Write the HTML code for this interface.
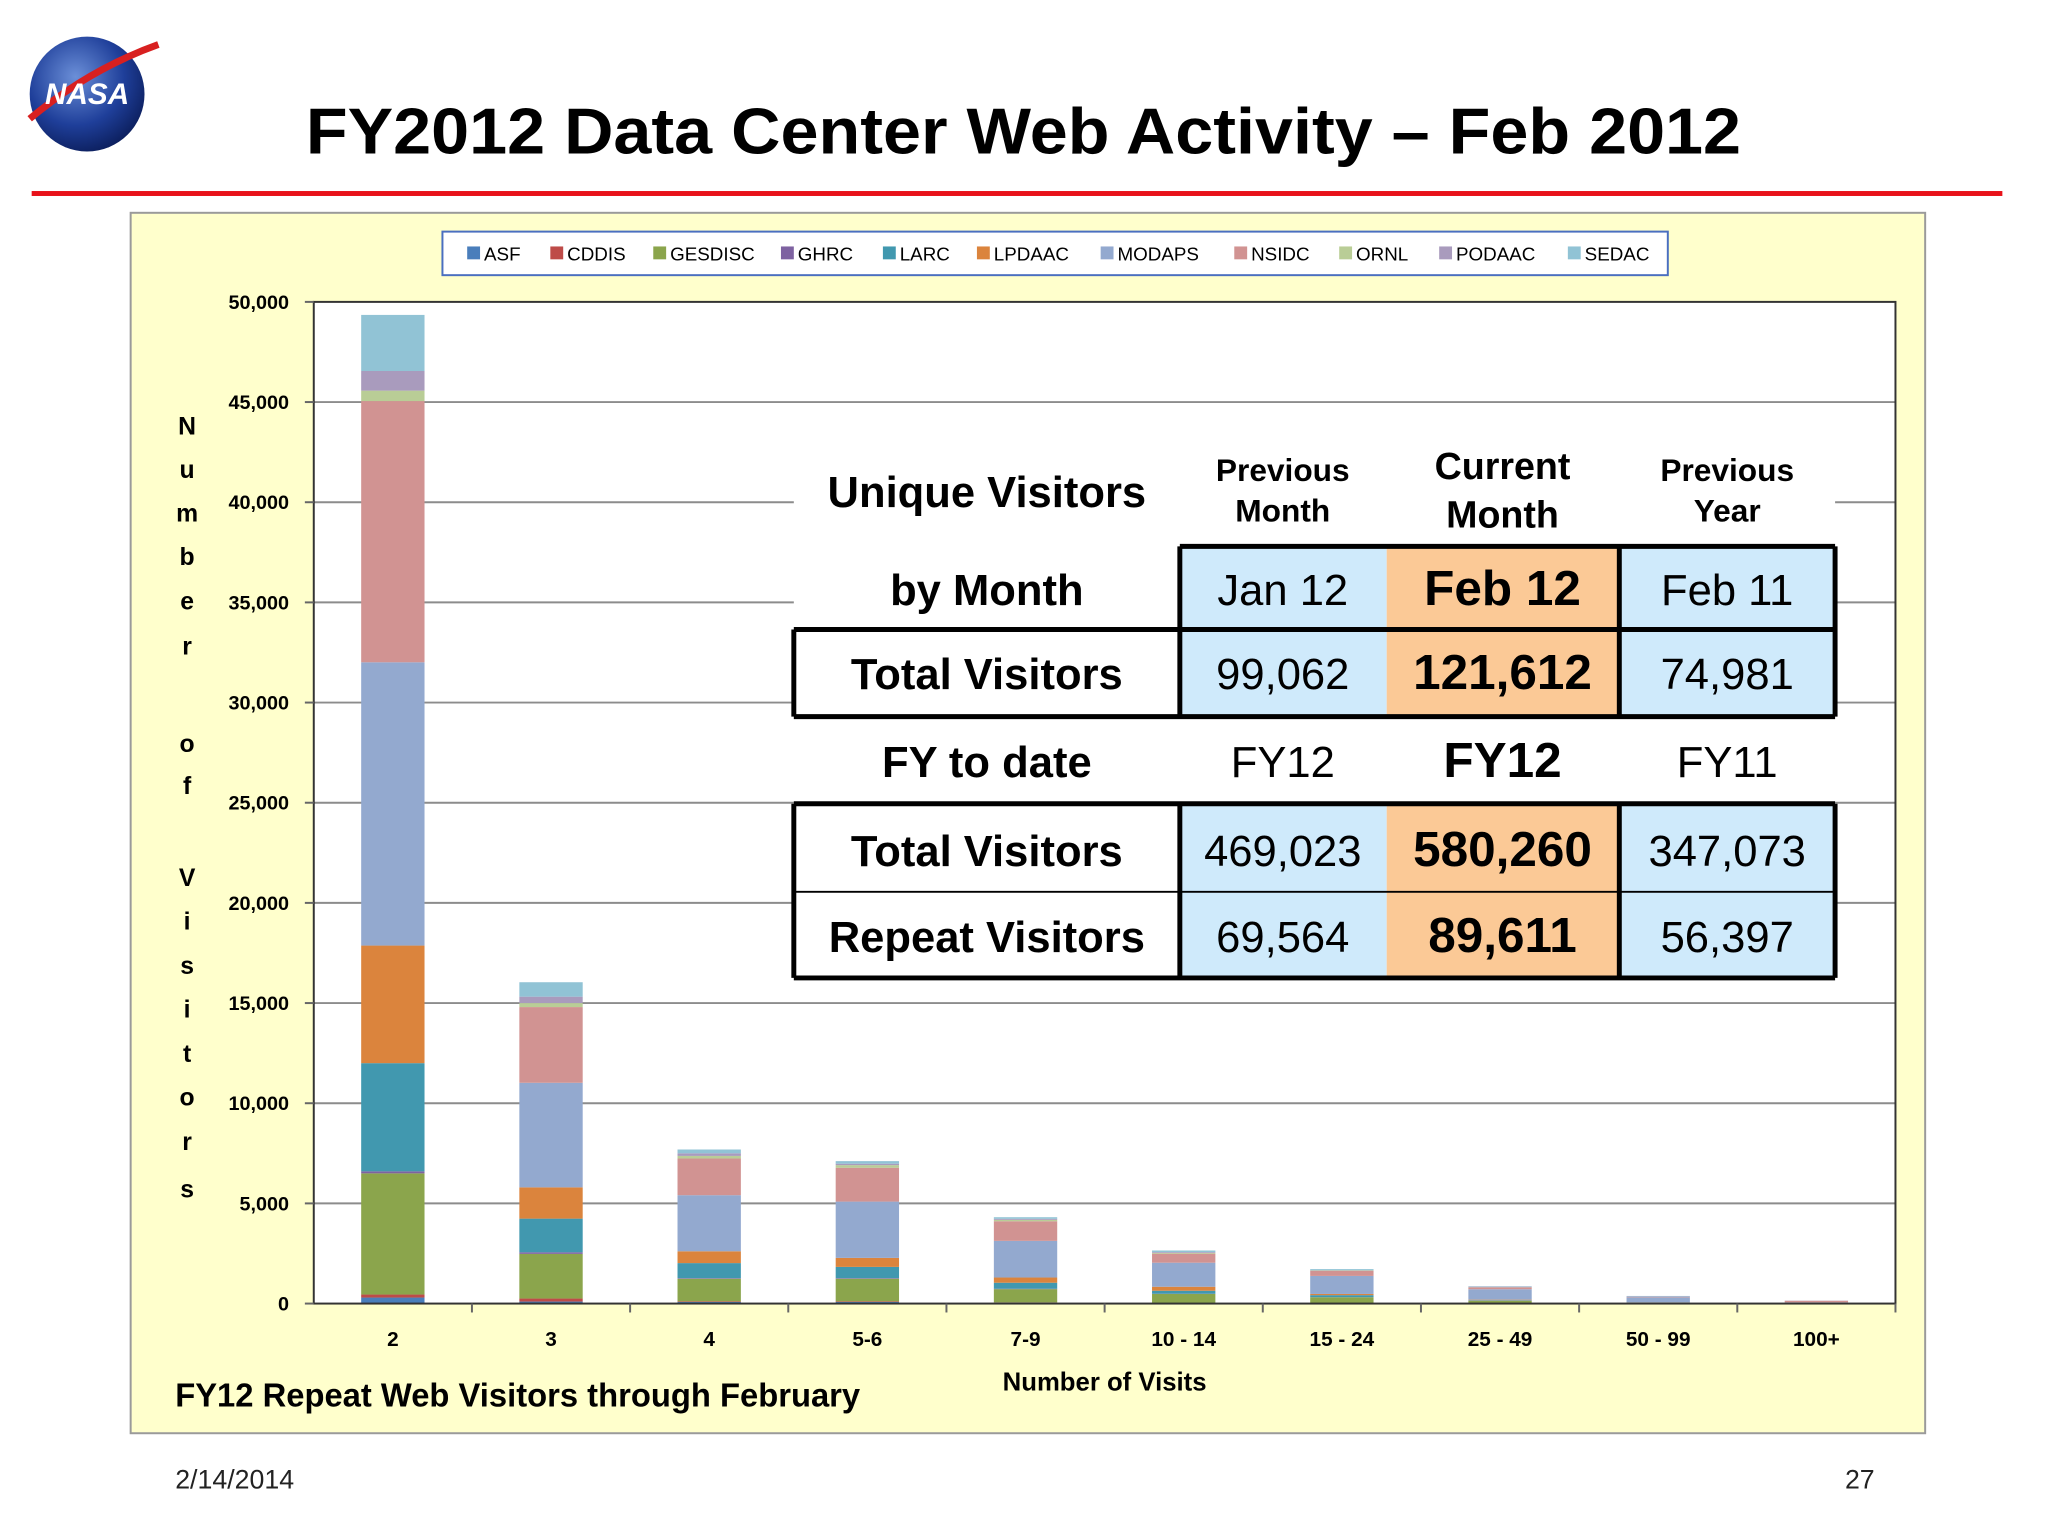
<!DOCTYPE html>
<html><head><meta charset="utf-8">
<style>
html,body{margin:0;padding:0;background:#fff;}
svg{display:block;font-family:"Liberation Sans",sans-serif;}
</style></head>
<body>
<svg id="s" width="2048" height="1536" viewBox="0 0 2048 1536" xmlns="http://www.w3.org/2000/svg">
<rect x="0" y="0" width="2048" height="1536" fill="#fff"/>
<g transform="scale(0.9898)">
<g>
  <defs><radialGradient id="lg" cx="40%" cy="35%" r="70%"><stop offset="0" stop-color="#6b8fd8"/><stop offset="0.6" stop-color="#1f3f9a"/><stop offset="1" stop-color="#0b1d5a"/></radialGradient></defs>
  <circle cx="88" cy="95" r="58" fill="url(#lg)"/>
  <path d="M30 120 Q90 70 160 45" stroke="#d82020" stroke-width="7" fill="none"/>
  <text x="88" y="105" font-size="30" font-weight="bold" fill="#fff" text-anchor="middle" font-style="italic">NASA</text>
</g>
<text x="309" y="155" font-size="66" font-weight="bold" textLength="1450" lengthAdjust="spacingAndGlyphs">FY2012 Data Center Web Activity – Feb 2012</text>
<rect x="32" y="193" width="1991" height="5" fill="#e8121a"/>
<rect x="132" y="215" width="1813" height="1233" fill="#ffffcc" stroke="#9a9a9a" stroke-width="2"/>
<rect x="317" y="305" width="1598" height="1012" fill="#fff"/>
<g id="grid"></g>
<g id="bars"></g>
<rect x="317" y="305" width="1598" height="1012" fill="none" stroke="#333" stroke-width="2"/>
<g id="axes"></g>
<g id="legend"></g>
<g id="ytitle"></g>
<text x="1116" y="1405" font-size="26" font-weight="bold" text-anchor="middle">Number of Visits</text>
<text x="177" y="1421" font-size="34" font-weight="bold" textLength="692" lengthAdjust="spacingAndGlyphs">FY12  Repeat Web Visitors through February</text>
<g id="table"></g>
<text x="177" y="1504" font-size="27" fill="#222">2/14/2014</text>
<text x="1894" y="1504" font-size="27" fill="#222" text-anchor="end">27</text>
</g>
</svg>
<script>
const categories = ["2","3","4","5-6","7-9","10 - 14","15 - 24","25 - 49","50 - 99","100+"];
const seriesNames = ["ASF","CDDIS","GESDISC","GHRC","LARC","LPDAAC","MODAPS","NSIDC","ORNL","PODAAC","SEDAC"];
const ASF     = [300,100,80,80,40,20,10,5,0,0];
const CDDIS   = [150,150,30,30,20,10,5,5,0,0];
const GESDISC = [6050,2230,1130,1130,660,450,300,120,40,20];
const GHRC    = [100,80,30,30,20,10,5,5,0,0];
const LARC    = [5400,1680,750,560,300,150,100,30,10,0];
const LPDAAC  = [5870,1560,590,450,260,200,60,30,10,0];
const MODAPS  = [14140,5220,2800,2810,1830,1200,900,520,250,40];
const NSIDC   = [13040,3780,1830,1690,980,450,250,90,20,80];
const ORNL    = [520,200,130,130,70,40,20,10,0,0];
const PODAAC  = [980,320,130,70,50,40,20,30,30,10];
const SEDAC   = [2800,720,190,130,80,80,50,20,20,0];
const yTicks = [0,5000,10000,15000,20000,25000,30000,35000,40000,45000,50000];
const yTickLabels = ["0","5,000","10,000","15,000","20,000","25,000","30,000","35,000","40,000","45,000","50,000"];

const series=[ASF,CDDIS,GESDISC,GHRC,LARC,LPDAAC,MODAPS,NSIDC,ORNL,PODAAC,SEDAC];
const colors=["#4a7ebb","#be4b48","#8ba54c","#7e62a1","#4198af","#db843d","#93a9cf","#d19392","#b9cd96","#a99bbd","#91c3d5"];
const NS="http://www.w3.org/2000/svg";
const L=317,R=1915,T=305,B=1317,YMAX=50000;
const yScale=v=>B-v/YMAX*(B-T);
const step=(R-L)/categories.length;
const xCenter=i=>L+step*(i+0.5);
const BW=64;
function mk(tag,attrs,parent,txt){const e=document.createElementNS(NS,tag);for(const k in attrs)e.setAttribute(k,attrs[k]);if(txt!==undefined)e.textContent=txt;parent.appendChild(e);return e;}
const grid=document.getElementById('grid'),bars=document.getElementById('bars'),axes=document.getElementById('axes');
yTicks.forEach((t,i)=>{
  if(t>0&&t<YMAX){const g=mk('line',{x1:L,x2:R,y1:yScale(t),y2:yScale(t),stroke:'#8c8c8c','stroke-width':2},grid);
  
  }
  const tk=mk('line',{x1:L-9,x2:L,y1:yScale(t),y2:yScale(t),stroke:'#666','stroke-width':2},axes);
  
  
  const lb=mk('text',{x:292,y:yScale(t)+7,'font-size':20,'font-weight':'bold','text-anchor':'end'},axes,yTickLabels[i]);
  
  
});
categories.forEach((c,i)=>{
  let acc=0;
  series.forEach((s,k)=>{
    const v=s[i]; if(v<=0)return;
    const r=mk('rect',{x:xCenter(i)-BW/2,y:yScale(acc+v),width:BW,height:yScale(acc)-yScale(acc+v),fill:colors[k]},bars);
    
    
    acc+=v;
  });
  const tk=mk('line',{x1:L+step*(i+1),x2:L+step*(i+1),y1:B,y2:B+9,stroke:'#666','stroke-width':2},axes);
  
  
  const lb=mk('text',{x:xCenter(i),y:1360,'font-size':21,'font-weight':'bold','text-anchor':'middle'},axes,c);
  
  
});
const lg=document.getElementById('legend');
const lbox=mk('rect',{x:447,y:234,width:1238,height:44,fill:'#fff',stroke:'#4a6fc0','stroke-width':2},lg);


const lx=[472,556,660,789,892,987,1112,1247,1353,1454,1584];
seriesNames.forEach((n,k)=>{
  const g=mk('g',{},lg);
  
  
  mk('rect',{x:lx[k],y:249,width:13,height:13,fill:colors[k]},g);
  mk('text',{x:lx[k]+17,y:263,'font-size':19},g,n);
});
const yt=document.getElementById('ytitle');
const letters="Number of Visitors".split("");
const ly=[430,474,518,562,607,652,0,751,793,0,886,930,975,1019,1064,1108,1153,1201];
letters.forEach((ch,i)=>{ if(ch===" ")return;
  const t=mk('text',{x:189,y:ly[i]+9,'font-size':25,'font-weight':'bold','text-anchor':'middle'},yt,ch);
  
  
});
const tb=document.getElementById('table');
const bg=mk('rect',{x:802,y:436,width:1052,height:552,fill:'#fff'},tb);


const cx=[802,1192,1401,1636,1854];
const blue="#cfeafb",orange="#fbc996";
function cell(x0,x1,y0,y1,fill,name){const r=mk('rect',{x:x0,y:y0,width:x1-x0,height:y1-y0,fill:fill},tb);}
[[552,636],[636,724],[812,901],[901,988]].forEach(([a,b],ri)=>{
  cell(cx[1],cx[2],a,b,blue,'cell-prev-'+ri);cell(cx[2],cx[3],a,b,orange,'cell-cur-'+ri);cell(cx[3],cx[4],a,b,blue,'cell-prevyr-'+ri);
});
function ln(x1,y1,x2,y2,w){mk('line',{x1,y1,x2,y2,stroke:'#000','stroke-width':w},tb);}
ln(1192,552,1854,552,5);
ln(1192,552,1192,724,5);ln(1636,552,1636,724,5);ln(1854,552,1854,724,5);
ln(802,636,1854,636,5);ln(802,724,1854,724,5);ln(802,636,802,724,5);
ln(802,812,1854,812,5);ln(802,988,1854,988,5);ln(802,812,802,988,5);ln(1854,812,1854,988,5);
ln(1192,812,1192,988,5);ln(1636,812,1636,988,5);
ln(802,901,1854,901,2);
function tx(x,y,s,t,b,name){const e=mk('text',{x:x,y:y,'font-size':s,'font-weight':b?'bold':'normal','text-anchor':'middle'},tb,t);}
tx(997,512,44,"Unique Visitors",1,'table-title');
tx(997,611,44,"by Month",1,'table-subtitle');
tx(1296,486,32,"Previous",1,'hdr-prev');tx(1296,527,32,"Month",1,'hdr-prev');
tx(1518,484,38,"Current",1,'hdr-cur');tx(1518,533,38,"Month",1,'hdr-cur');
tx(1745,486,32,"Previous",1,'hdr-prevyr');tx(1745,527,32,"Year",1,'hdr-prevyr');
const rows=[[611,"",["Jan 12","Feb 12","Feb 11"]],[696,"Total Visitors",["99,062","121,612","74,981"]],[785,"FY to date",["FY12","FY12","FY11"]],[875,"Total Visitors",["469,023","580,260","347,073"]],[962,"Repeat Visitors",["69,564","89,611","56,397"]]];
rows.forEach(([y,lab,v],i)=>{
  if(lab)tx(997,y,44,lab,1,'row-label-'+i);
  tx(1296,y,44,v[0],0,'val-prev-'+i);tx(1518,y,50,v[1],1,'val-cur-'+i);tx(1745,y,44,v[2],0,'val-prevyr-'+i);
});
</script>
</body></html>
